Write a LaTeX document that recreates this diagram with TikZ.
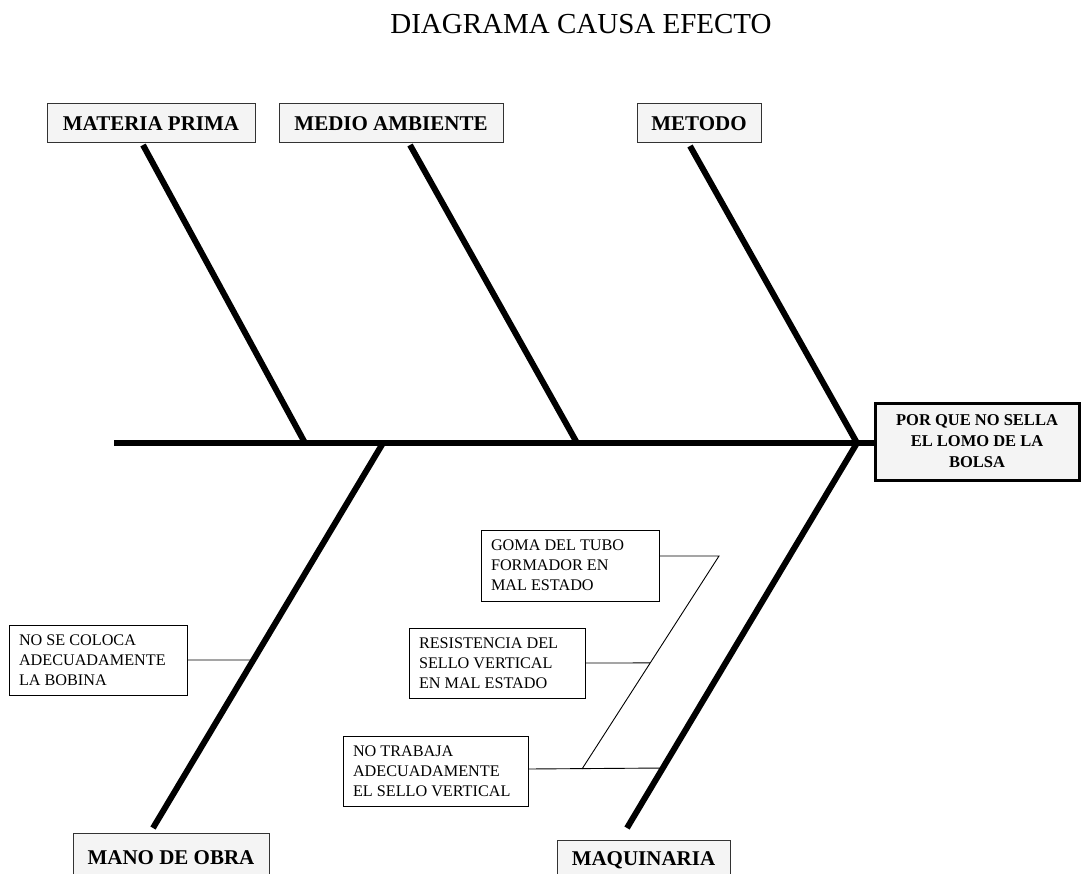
\documentclass[tikz,border=0pt]{standalone}
\usepackage{fontspec}
\setmainfont{Liberation Serif}
\usetikzlibrary{calc}
\definecolor{boxfill}{HTML}{F4F4F4}
\definecolor{boxline}{HTML}{333333}
\begin{document}
\begin{tikzpicture}[x=1pt,y=-1pt,
  catbox/.style={draw=boxline,line width=1pt,fill=boxfill,inner sep=0pt,
    font=\fontsize{21}{24}\selectfont\bfseries},
  causebox/.style={draw=black,line width=0.8pt,fill=white,inner xsep=10pt,inner ysep=0pt,
    align=flush left,font=\fontsize{16.2}{20}\selectfont},
  headbox/.style={draw=black,line width=3pt,fill=boxfill,inner sep=0pt,align=center,
    font=\fontsize{16.5}{21}\selectfont\bfseries},
  bone/.style={line width=6pt},
  thin/.style={line width=0.9pt}]
\useasboundingbox (0,0) rectangle (1081,874);
% title
\node[font=\fontsize{29}{34}\selectfont] (title) at (581,24) {DIAGRAMA CAUSA EFECTO};
% category boxes
\node[catbox,minimum width=208pt,minimum height=39pt] (mp) at (151,123.5) {MATERIA PRIMA};
\node[catbox,minimum width=224pt,minimum height=39pt] (ma) at (391,123.5) {MEDIO AMBIENTE};
\node[catbox,minimum width=124pt,minimum height=39pt] (me) at (699,123.5) {METODO};
\node[catbox,minimum width=196pt,minimum height=50pt] (mo) at (171,858) {MANO DE OBRA};
\node[catbox,minimum width=173pt,minimum height=40pt] (mq) at (643.5,860) {MAQUINARIA};
% head
\node[headbox,minimum width=204pt,minimum height=77pt] (head) at (977,441.5)
  {POR QUE NO SELLA\\EL LOMO DE LA\\BOLSA};
% bone coordinates
\coordinate (s0) at (114,443);
\coordinate (mpT) at (143,145);  \coordinate (mpB) at (305,443);
\coordinate (maT) at (410,145);  \coordinate (maB) at (577,443);
\coordinate (meT) at (690,146);  \coordinate (tip) at (857,443);
\coordinate (moT) at (383,443);  \coordinate (moB) at (153,828);
\coordinate (mqB) at (627,828);
% spine and bones
\draw[bone] (s0) -- (s0 -| head.west);
\draw[bone] (mpT) -- (mpB);
\draw[bone] (maT) -- (maB);
\draw[bone] (meT) -- (tip);
\draw[bone] (moT) -- (moB);
\draw[bone] (tip) -- (mqB);
% cause boxes
\node[causebox,text width=158pt,minimum height=70pt] (c1) at (98,660)
  {NO SE COLOCA\\ADECUADAMENTE\\LA BOBINA};
\node[causebox,text width=158pt,minimum height=71pt] (c2) at (570,565.5)
  {GOMA DEL TUBO\\FORMADOR EN\\MAL ESTADO};
\node[causebox,text width=156pt,minimum height=70pt] (c3) at (497,663)
  {RESISTENCIA DEL\\SELLO VERTICAL\\EN MAL ESTADO};
\node[causebox,text width=165pt,minimum height=70pt] (c4) at (435.5,771)
  {NO TRABAJA\\ADECUADAMENTE\\EL SELLO VERTICAL};
% sub-bone
\coordinate (d1) at (719,556);
\coordinate (d2) at (582,769);
\draw[thin] (c2.east |- d1) -- (d1) -- (d2);
\draw[thin] (c1.east) -- ($(moT)!0.5636!(moB)$);
\draw[thin] (c3.east |- 0,663) -- ($(d1)!0.502!(d2)$);
\draw[thin] (c4.east |- d2) -- ($(tip)!0.8442!(mqB)$);
\end{tikzpicture}
\end{document}
